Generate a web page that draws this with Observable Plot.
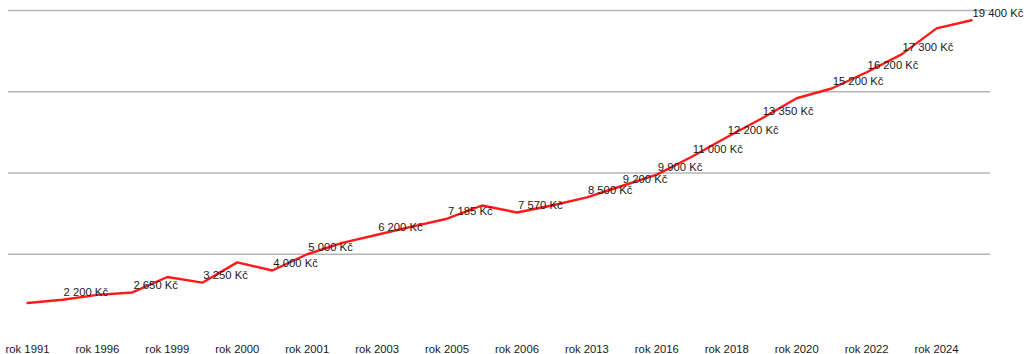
<!DOCTYPE html>
<html>
<head>
<meta charset="utf-8">
<script src="https://cdn.jsdelivr.net/npm/d3@7"></script>
<script src="https://cdn.jsdelivr.net/npm/@observablehq/plot@0.6"></script>
<style>
  html, body { margin: 0; padding: 0; background: #fff; }
  #chart svg { display: block; }
</style>
</head>
<body>
<div id="chart"></div>
<script>
// Category labels for each vertex (only every other one is shown on the axis)
const years = ["rok 1991","rok 1992","rok 1996","rok 1998","rok 1999","rok 1999","rok 2000","rok 2000",
  "rok 2001","rok 2002","rok 2003","rok 2004","rok 2005","rok 2006","rok 2006","rok 2007",
  "rok 2013","rok 2015","rok 2016","rok 2017","rok 2018","rok 2019","rok 2020","rok 2021",
  "rok 2022","rok 2023","rok 2024","rok 2025"];
// Minimum wage values (Kč)
const wages = [2000, 2200, 2500, 2650, 3600, 3250, 4500, 4000,
  5000, 5700, 6200, 6700, 7185, 8000, 7570, 8000,
  8500, 9200, 9900, 11000, 12200, 13350, 14600, 15200,
  16200, 17300, 18900, 19400];
// Indices of points that carry a value label
const labeled = [1, 3, 5, 7, 8, 10, 12, 14, 16, 17, 18, 19, 20, 21, 23, 24, 25, 27];
// Axis ticks shown (every other category)
const tickIdx = d3.range(0, years.length, 2);
const gridValues = [5000, 10000, 15000, 20000];

const data = wages.map((v, i) => ({i, year: years[i], value: v}));
const labelData = labeled.map(i => data[i]);
const fmt = v => d3.format(",")(v).replace(/,/g, " ") + " Kč";

const chart = Plot.plot({
  width: 1024,
  height: 354,
  marginLeft: 8,
  marginRight: 34,
  marginTop: 10,
  marginBottom: 19,
  style: {fontFamily: "'Liberation Sans', Arial, sans-serif", fontSize: "11.3px", color: "#1a1a1a", background: "#fff"},
  x: {domain: [0, years.length - 1], insetLeft: 19, insetRight: 19, axis: null},
  y: {domain: [0, 20000], axis: null},
  marks: [
    Plot.ruleY(gridValues, {stroke: "#b5b5b5", strokeWidth: 1.5}),
    Plot.axisX(tickIdx, {tickSize: 0, tickPadding: 9, tickFormat: i => years[i], label: null, fontSize: 11.3, fill: "#1a1a1a"}),
    Plot.line(data, {x: "i", y: "value", stroke: "#ff1a1a", strokeWidth: 2.4, strokeLinejoin: "miter"}),
    Plot.text(labelData, {x: "i", y: "value", text: d => fmt(d.value), textAnchor: "start", dx: 1, dy: -7, fill: "#1a1a1a", fontSize: 11.3})
  ]
});
document.getElementById("chart").appendChild(chart);
</script>
</body>
</html>
